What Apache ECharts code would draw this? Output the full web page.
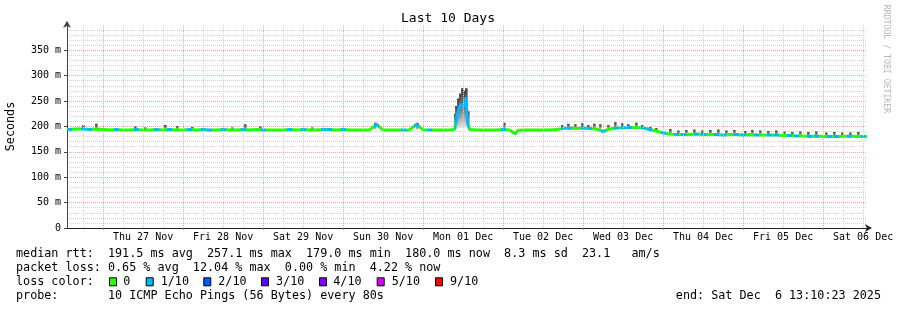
<!DOCTYPE html>
<html><head><meta charset="utf-8">
<script src="https://cdn.jsdelivr.net/npm/echarts@6/dist/echarts.min.js"></script>
<style>html,body{margin:0;padding:0;background:#fff}#c{width:897px;height:310px}</style>
</head><body><div id="c"></div>
<script>
// x unit: hours since Wed Nov 26 2025 00:00
const AXIS_MIN = 13.17306;   // Wed Nov 26 13:10:23
const AXIS_MAX = 253.17306;  // Sat Dec 6 13:10:23
const dayLabels = ['Thu 27 Nov','Fri 28 Nov','Sat 29 Nov','Sun 30 Nov','Mon 01 Dec','Tue 02 Dec','Wed 03 Dec','Thu 04 Dec','Fri 05 Dec','Sat 06 Dec'];
const noonTicks = [36,60,84,108,132,156,180,204,228,252];
const midnightTicks = [24,48,72,96,120,144,168,192,216,240];
const quarterTicks = [];
for (let h = 18; h < AXIS_MAX; h += 6) { if (h % 24 !== 0) quarterTicks.push(h); }

// median rtt (ms) and lost pings (of 10)
const medTimes = [13.2,14,16,18,20,22,24,26,28,30,32,34,36,
  38,40,42,44,46,48,50,52,54,56,58,60,
  62,64,66,68,70,72,74,76,78,80,82,84,
  86,88,90,92,94,96,98,100,102,104,106,108,
  110,112,114,116,118,120,122,124,126,128,
  129.4,129.9,130.8,131.4,132.3,132.9,133.3,134,
  136,138,140,142,144,146,146.8,147.7,148.4,
  150,152,154,156,158,160,
  162,164,166,168,170,172,174,176,178,180,
  182,184,186,188,190,192,194,196,198,200,202,204,
  206,208,210,212,214,216,218,220,222,224,226,228,
  230,232,234,236,238,240,242,244,246,248,250,252,253.17];
const medianMs = [194,194,195,195,194,195,194,193,194,193,193,194,193,
  193,194,193,194,193,193,194,193,194,193,193,194,
  193,193,194,193,194,193,193,193,193,194,193,194,
  193,193,194,194,193,194,193,193,193,193,204,193,
  193,193,193,193,204,193,193,193,193,193,
  194,210,236,243,240,257,209,194,
  193,193,193,193,194,193,189,185,192,
  193,193,193,193,193,194,
  196,197,196,197,196,195,190,195,197,197,
  198,198,197,194,191,187,185,184,184,184,185,184,
  184,184,183,184,184,183,184,183,183,183,183,182,
  182,181,181,180,181,180,180,180,180,181,180,180,180];
const lossTenths = [0,1,0,1,1,0,0,0,1,0,0,1,0,
  0,1,0,1,0,0,1,0,1,1,0,1,
  0,0,1,0,0,1,0,0,0,1,0,1,
  0,0,1,1,0,1,0,0,0,0,1,0,
  0,0,1,0,1,0,1,0,0,0,
  0,1,1,1,1,1,1,0,
  0,0,0,0,1,0,0,0,0,
  0,0,0,0,0,0,
  1,1,0,1,1,0,1,0,1,1,
  1,0,1,1,0,1,0,1,1,0,1,1,
  0,1,1,0,1,1,0,1,0,1,1,0,
  1,1,0,1,1,0,1,1,0,1,0,1,0];

// smoke (spread of the pings), ms
const smokeTimes = [18.0,21.9,33.6,36.6,42.6,46.2,50.7,62.7,66.6,71.1,86.7,105.6,118.2,
  129.6,129.9,130.5,131.1,131.7,132.3,132.9,133.5,144.3,
  161.7,163.5,165.6,167.7,169.5,171.3,173.1,175.5,177.6,179.7,181.5,183.9,185.7,188.1,189.9,
  194.1,196.5,198.9,201.3,203.7,206.1,208.5,210.9,213.3,216.6,218.7,221.1,223.5,225.9,228.3,
  230.7,233.1,235.5,237.9,240.9,243.3,245.7,248.1,250.5];
const smokeLoMs = [192,192,192,192,192,192,192,192,192,192,192,193,193,
  195,195,196,197,198,198,197,196,193,
  194,194,195,194,195,194,194,194,195,195,195,195,194,190,188,
  183,183,183,182,183,182,182,182,182,182,182,182,182,181,181,
  180,180,179,179,179,179,179,179,179];
const smokeHiMs = [203,205,200,198,203,201,199,198,204,200,198,207,207,
  225,240,255,265,275,270,275,230,207,
  203,205,204,206,203,205,204,203,208,206,204,207,203,199,197,
  195,192,193,194,192,193,194,192,193,191,193,192,191,192,190,
  189,190,189,190,188,189,188,188,189];

const yTicksMax = 400, yStep = 50;
const lossColors = ['#26ff00','#00b8ff','#0059ff','#5e00ff','#7e00ff','#dd00ff','#ff0000'];
const lossLevels = [0,1,2,3,4,5,9];
const lossLegend = ['0','1/10','2/10','3/10','4/10','5/10','9/10'];

const titleText = 'Last 10 Days';
const yName = 'Seconds';
const rttLine = 'median rtt:  191.5 ms avg  257.1 ms max  179.0 ms min  180.0 ms now  8.3 ms sd  23.1   am/s';
const lossLine = 'packet loss: 0.65 % avg  12.04 % max  0.00 % min  4.22 % now';
const colorLine = 'loss color:';
const probeLine = 'probe:       10 ICMP Echo Pings (56 Bytes) every 80s';
const endText = 'end: Sat Dec  6 13:10:23 2025';
const creditText = 'RRDTOOL / TOBI OETIKER';

// layout (pixels)
const boxX = [109,145.7,203.3,261,319,376.7,435];
const boxTextX = [123.3,160.7,218.3,276,333.3,391.7,450];
const rowY = [254.3,268.3,282.3,296.3];
const LOSS_HALF_WIDTH_H = 0.75; // half width (hours) of a coloured loss mark

const MONO = '"DejaVu Sans Mono", monospace';
const LEG_FONT = '11.75px ' + MONO;

// build data
const medianData = medTimes.map((t, i) => [t, medianMs[i]]);
const smokeData = smokeTimes.map((t, i) => [t, smokeLoMs[i], smokeHiMs[i]]);
const pieces = [];
for (let i = 0; i < medTimes.length; i++) {
  if (lossTenths[i] > 0) {
    const a = i > 0 ? Math.max((medTimes[i - 1] + medTimes[i]) / 2, medTimes[i] - LOSS_HALF_WIDTH_H) : medTimes[i];
    const b = i < medTimes.length - 1 ? Math.min((medTimes[i] + medTimes[i + 1]) / 2, medTimes[i] + LOSS_HALF_WIDTH_H) : medTimes[i];
    pieces.push({ gte: a, lt: b, color: lossColors[lossLevels.indexOf(lossTenths[i])] });
  }
}

const txt = (x, y, s, extra) => Object.assign({
  type: 'text', x: x, y: y, silent: true,
  style: Object.assign({ text: s, font: LEG_FONT, fill: '#000', textVerticalAlign: 'middle' }, extra || {})
});
const graphics = [];
graphics.push(txt(448, 19, titleText, { font: '13px ' + MONO, textAlign: 'center' }));
graphics.push({ type: 'text', x: 11, y: 126.5, rotation: Math.PI / 2, silent: true,
  style: { text: yName, font: LEG_FONT, fill: '#000', textAlign: 'center', textVerticalAlign: 'middle' } });
graphics.push({ type: 'text', x: 886, y: 59, rotation: -Math.PI / 2, silent: true,
  style: { text: creditText, font: '8.2px ' + MONO, fill: '#b8b8b8', textAlign: 'center', textVerticalAlign: 'middle' } });
graphics.push(txt(16, rowY[0], rttLine));
graphics.push(txt(16, rowY[1], lossLine));
graphics.push(txt(16, rowY[2], colorLine));
lossLegend.forEach((s, i) => {
  graphics.push({ type: 'rect', silent: true, shape: { x: boxX[i] + 0.5, y: rowY[2] - 4.5, width: 7, height: 8 },
    style: { fill: lossColors[i], stroke: '#000', lineWidth: 1 } });
  graphics.push(txt(boxTextX[i], rowY[2], s));
});
graphics.push(txt(16, rowY[3], probeLine));
graphics.push(txt(881, rowY[3], endText, { textAlign: 'right' }));

const chart = echarts.init(document.getElementById('c'), null, { renderer: 'canvas' });
const gridMajor = '#f3a3a3', gridMinor = '#d2d2d2';
const vLine = (t, color) => ({ xAxis: t, lineStyle: { color: color, type: [1, 1], width: 1 } });
chart.setOption({
  animation: false,
  backgroundColor: '#fff',
  grid: { left: 67, right: 30, top: 24.8, bottom: 82, outerBoundsMode: 'none', containLabel: false },
  xAxis: [
    { type: 'value', min: AXIS_MIN, max: AXIS_MAX, position: 'bottom',
      axisLine: { show: true, onZero: false, symbol: ['none', 'arrow'], symbolSize: [6, 7], symbolOffset: [0, 5],
        lineStyle: { color: '#222', width: 1 } },
      axisTick: { show: true, customValues: midnightTicks, length: 2, lineStyle: { color: '#e06060' } },
      axisLabel: { show: true, customValues: noonTicks, margin: 4, color: '#000', fontFamily: MONO, fontSize: 10,
        formatter: v => { const k = noonTicks.indexOf(Math.round(v)); return k >= 0 ? dayLabels[k] : ''; } },
      splitLine: { show: false } }
  ],
  yAxis: [{
    type: 'value', min: 0, max: yTicksMax, interval: yStep,
    axisLine: { show: true, symbol: ['none', 'arrow'], symbolSize: [6, 7], symbolOffset: [0, 4],
      lineStyle: { color: '#444', width: 1 } },
    axisTick: { show: true, length: 3, lineStyle: { color: '#444' } },
    minorTick: { show: false, splitNumber: 5 },
    axisLabel: { margin: 6, color: '#000', fontFamily: MONO, fontSize: 10, showMaxLabel: false,
      formatter: v => v === 0 ? '0' : v + ' m' },
    splitLine: { show: true, showMaxLine: false, lineStyle: { color: gridMajor, type: [1, 1], width: 1 } },
    minorSplitLine: { show: true, lineStyle: { color: gridMinor, type: [1, 1], width: 1 } }
  }],
  visualMap: {
    type: 'piecewise', show: false, dimension: 0, seriesIndex: 2,
    pieces: pieces, outOfRange: { color: lossColors[0] }
  },
  series: [
    { type: 'line', name: 'vgrid', data: [], z: 1, silent: true,
      markLine: { silent: true, symbol: ['none', 'none'], label: { show: false }, animation: false,
        emphasis: { disabled: true },
        data: quarterTicks.map(t => vLine(t, gridMinor)).concat(midnightTicks.map(t => vLine(t, gridMajor))) } },
    { type: 'custom', name: 'smoke', clip: true, z: 3,
      encode: { x: 0, y: [1, 2] },
      data: smokeData,
      renderItem: function (params, api) {
        const top = api.coord([api.value(0), api.value(2)]);
        const bot = api.coord([api.value(0), api.value(1)]);
        return { type: 'rect', shape: { x: top[0] - 1, y: top[1], width: 2.5, height: bot[1] - top[1] },
          style: { fill: { type: 'linear', x: 0, y: 0, x2: 0, y2: 1,
            colorStops: [{ offset: 0, color: '#3c3c3c' }, { offset: 0.6, color: '#8c8c8c' }, { offset: 1, color: '#e4e4e4' }] } } };
      } },
    { type: 'line', name: 'median', data: medianData,
      showSymbol: false, symbol: 'none', z: 4, lineStyle: { width: 3 } }
  ],
  graphic: graphics
});
</script></body></html>
